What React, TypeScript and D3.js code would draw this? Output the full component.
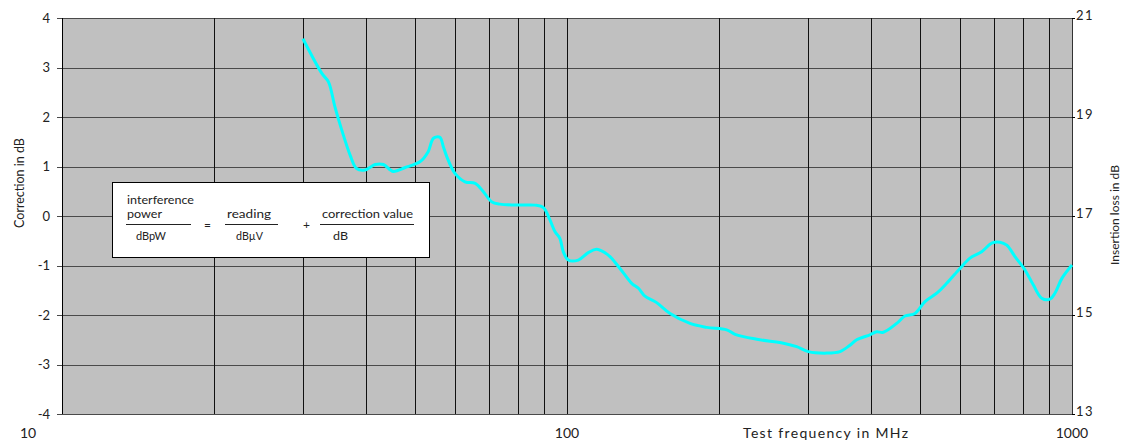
import React, { useEffect, useRef } from 'react'
import * as d3 from 'd3'

// measured correction curve (MHz, dB)
const freqs = [
  30, 32.7, 33.7, 34.7, 35.8, 37.2, 38.3, 39.8, 41.7, 43.3, 45.3, 47.8, 51.2, 53.1, 54.4, 56.0, 56.9,
  57.8, 60.0, 62.8, 65.8, 68.3, 70.9, 73.7, 80.7, 86.4, 89.8, 92.5, 94.7, 96.8, 98.3, 100.6, 105.3,
  110.2, 114.5, 120.7, 127.3, 134.3, 138.5, 142.7, 150.5, 160, 175.2, 189.1, 207.1, 215.2, 237.5,
  268.2, 285, 300.5, 326.8, 347.2, 363.4, 374.6, 398, 410.5, 423, 449.7, 467, 488.7, 511.6, 539.8,
  564.9, 600, 628, 662.5, 693.3, 720, 742.7, 771, 807, 838, 871, 904.5, 925, 955, 1000,
]
const corrections = [
  3.58, 2.88, 2.71, 2.21, 1.74, 1.23, 0.96, 0.93, 1.04, 1.04, 0.9, 0.98, 1.1, 1.3, 1.57, 1.59, 1.4,
  1.2, 0.86, 0.69, 0.66, 0.49, 0.29, 0.24, 0.22, 0.22, 0.17, -0.08, -0.32, -0.45, -0.72, -0.89, -0.89,
  -0.74, -0.67, -0.79, -1.06, -1.36, -1.46, -1.62, -1.75, -1.97, -2.17, -2.25, -2.3, -2.39, -2.49,
  -2.57, -2.64, -2.74, -2.77, -2.74, -2.61, -2.5, -2.4, -2.34, -2.35, -2.17, -2.02, -1.97, -1.73, -1.56,
  -1.36, -1.06, -0.85, -0.72, -0.55, -0.53, -0.59, -0.82, -1.09, -1.39, -1.66, -1.68, -1.56, -1.26, -0.99,
]

const leftTicks = [-4, -3, -2, -1, 0, 1, 2, 3, 4]
const rightTicks = [13, 15, 17, 19, 21]
const freqTicks = [10, 100, 1000]
const gridFreqs = [
  20, 30, 40, 50, 60, 70, 80, 90, 200, 300, 400, 500, 600, 700, 800, 900,
]

const FONT = 'Lato, "Noto Sans", sans-serif'

export default function App() {
  const svgRef = useRef<SVGSVGElement>(null)

  useEffect(() => {
    if (!svgRef.current) return
    const svg = d3.select(svgRef.current)
    svg.selectAll('*').remove()

    const left = 62
    const right = 1072
    const top = 18
    const bottom = 414

    const x = d3.scaleLog().domain([10, 1000]).range([left, right])
    const y = d3.scaleLinear().domain([-4, 4]).range([bottom, top])
    const yR = d3.scaleLinear().domain([13, 21]).range([bottom, top])

    svg
      .append('rect')
      .attr('x', left)
      .attr('y', top)
      .attr('width', right - left)
      .attr('height', bottom - top)
      .attr('fill', '#c0c0c0')

    // horizontal grid
    svg
      .append('g')
      .selectAll('line')
      .data(leftTicks)
      .join('line')
      .attr('x1', left - 5)
      .attr('x2', right)
      .attr('y1', (d) => Math.round(y(d)) + 0.5)
      .attr('y2', (d) => Math.round(y(d)) + 0.5)
      .attr('stroke', '#4a4a4a')
      .attr('stroke-width', 1)

    // vertical grid
    svg
      .append('g')
      .selectAll('line')
      .data([...gridFreqs, 100])
      .join('line')
      .attr('x1', (d) => Math.round(x(d)) + 0.5)
      .attr('x2', (d) => Math.round(x(d)) + 0.5)
      .attr('y1', top)
      .attr('y2', bottom)
      .attr('stroke', '#111')
      .attr('stroke-width', 1)

    // frame left / right
    svg
      .append('line')
      .attr('x1', left + 0.5)
      .attr('x2', left + 0.5)
      .attr('y1', top)
      .attr('y2', bottom)
      .attr('stroke', '#000')
    svg
      .append('line')
      .attr('x1', right + 0.5)
      .attr('x2', right + 0.5)
      .attr('y1', top)
      .attr('y2', bottom)
      .attr('stroke', '#333')

    // right ticks
    svg
      .append('g')
      .selectAll('line')
      .data(rightTicks)
      .join('line')
      .attr('x1', right)
      .attr('x2', right + 3)
      .attr('y1', (d) => Math.round(yR(d)) + 0.5)
      .attr('y2', (d) => Math.round(yR(d)) + 0.5)
      .attr('stroke', '#000')

    // left tick labels
    svg
      .append('g')
      .selectAll('text')
      .data(leftTicks)
      .join('text')
      .attr('x', left - 12)
      .attr('y', (d) => y(d))
      .attr('dy', '0.35em')
      .attr('text-anchor', 'end')
      .style('font-family', FONT)
      .style('font-size', '13px')
      .attr('fill', '#222')
      .text((d) => String(d))

    // right tick labels
    svg
      .append('g')
      .selectAll('text')
      .data(rightTicks)
      .join('text')
      .attr('x', right + 4)
      .attr('y', (d) => yR(d) - 3)
      .attr('dy', '0.35em')
      .style('font-family', FONT)
      .style('font-size', '13px')
      .style('letter-spacing', '1.5px')
      .attr('fill', '#222')
      .text((d) => String(d))

    // bottom labels
    svg
      .append('g')
      .selectAll('text')
      .data(freqTicks)
      .join('text')
      .attr('x', (d) => (d === 10 ? x(d) - 42 : x(d)))
      .attr('y', 438)
      .attr('text-anchor', (d) => (d === 10 ? 'start' : 'middle'))
      .style('font-family', FONT)
      .style('font-size', '14px')
      .attr('fill', '#222')
      .text((d) => String(d))

    svg
      .append('text')
      .attr('x', 743)
      .attr('y', 438)
      .attr('textLength', 165)
      .attr('lengthAdjust', 'spacing')
      .style('font-family', FONT)
      .style('font-size', '14px')
      .attr('fill', '#222')
      .text('Test frequency in MHz')

    svg
      .append('text')
      .attr('transform', `translate(24,183) rotate(-90)`)
      .attr('text-anchor', 'middle')
      .style('font-family', FONT)
      .style('font-size', '12.5px')
      .attr('fill', '#222')
      .text('Correction in dB')

    svg
      .append('text')
      .attr('transform', `translate(1119,215) rotate(-90)`)
      .attr('text-anchor', 'middle')
      .style('font-family', FONT)
      .style('font-size', '12px')
      .attr('fill', '#222')
      .text('Insertion loss in dB')

    // formula box
    const box = svg.append('g')
    box
      .append('rect')
      .attr('x', 112.5)
      .attr('y', 182.5)
      .attr('width', 317)
      .attr('height', 75)
      .attr('fill', '#fff')
      .attr('stroke', '#000')
    const fText = (tx: number, ty: number, s: string, w?: number) => {
      const t = box
        .append('text')
        .attr('x', tx)
        .attr('y', ty)
        .style('font-family', FONT)
        .style('font-size', '12px')
        .attr('fill', '#222')
        .text(s)
      if (w) t.attr('textLength', w).attr('lengthAdjust', 'spacingAndGlyphs')
    }
    const fLine = (x1: number, x2: number) =>
      box
        .append('line')
        .attr('x1', x1)
        .attr('x2', x2)
        .attr('y1', 224.5)
        .attr('y2', 224.5)
        .attr('stroke', '#222')
    fText(127, 204, 'interference', 67)
    fText(127, 218, 'power', 35)
    fLine(126, 191)
    fText(136, 240, 'dBpW', 30)
    fText(204, 229, '=')
    fText(227, 218, 'reading', 44)
    fLine(225, 278)
    fText(236, 240, 'dBµV', 27)
    fText(303, 229, '+')
    fText(322, 218, 'correction value', 91)
    fLine(320, 414)
    fText(333, 240, 'dB', 15)

    // curve
    const pts: [number, number][] = freqs.map((f, i) => [x(f), y(corrections[i])])
    const line = d3
      .line<[number, number]>()
      .x((d) => d[0])
      .y((d) => d[1])
      .curve(d3.curveCatmullRom.alpha(0.5))
    svg
      .append('path')
      .attr('d', line(pts))
      .attr('fill', 'none')
      .attr('stroke', '#00ffff')
      .attr('stroke-width', 3)
      .attr('stroke-linejoin', 'round')
  }, [])

  return (
    <svg
      ref={svgRef}
      width={1130}
      height={444}
      style={{ position: 'absolute', left: 0, top: 0, background: '#fff' }}
    />
  )
}
